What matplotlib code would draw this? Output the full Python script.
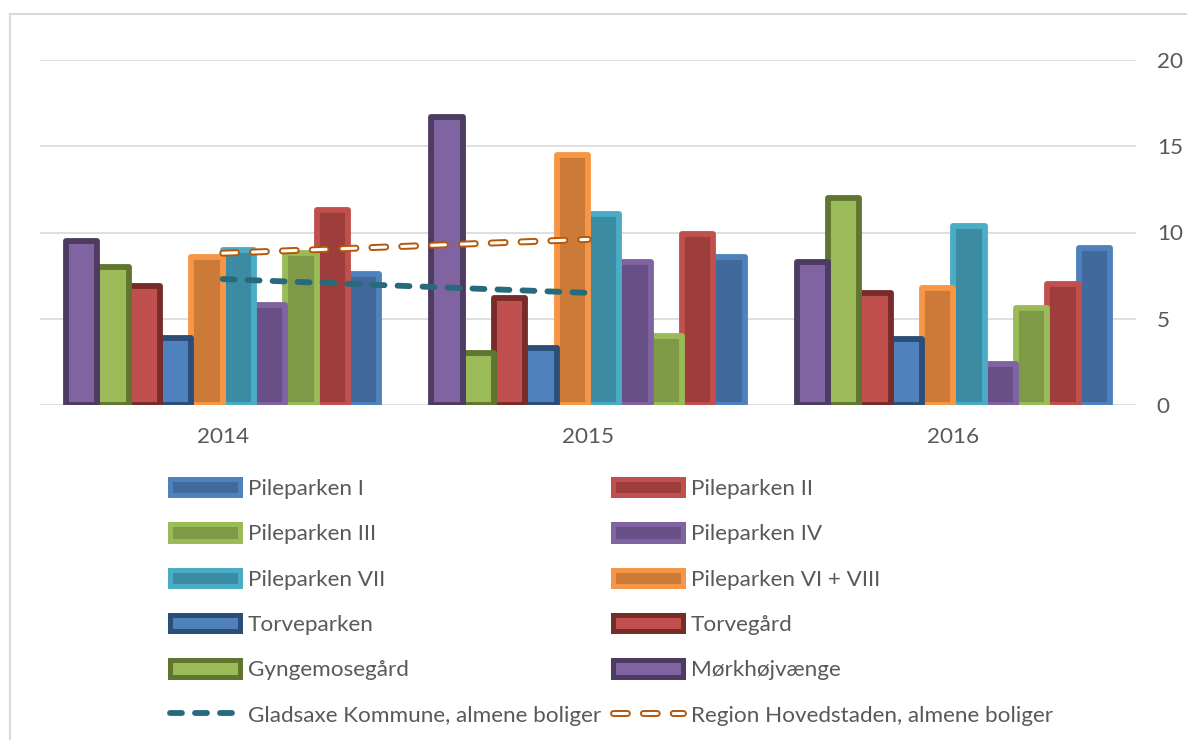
import matplotlib
matplotlib.use("Agg")
import matplotlib.pyplot as plt
import numpy as np
from matplotlib.patches import Patch
from matplotlib.lines import Line2D

plt.rcParams['lines.scale_dashes'] = False
plt.rcParams['font.family'] = ['Lato', 'DejaVu Sans']

years = ["2014", "2015", "2016"]

# series in legend order
series_names = ["Pileparken I", "Pileparken II", "Pileparken III", "Pileparken IV",
                "Pileparken VII", "Pileparken VI + VIII", "Torveparken", "Torvegård",
                "Gyngemosegård", "Mørkhøjvænge"]
pileparken_I = [7.6, 8.6, 9.1]
pileparken_II = [11.3, 9.9, 7.0]
pileparken_III = [8.8, 4.0, 5.6]
pileparken_IV = [5.8, 8.3, 2.4]
pileparken_VII = [9.0, 11.1, 10.4]
pileparken_VI_VIII = [8.6, 14.5, 6.8]
torveparken = [3.9, 3.3, 3.8]
torvegaard = [6.9, 6.2, 6.5]
gyngemosegaard = [8.0, 3.0, 12.0]
moerkhoejvaenge = [9.5, 16.7, 8.3]

gladsaxe = [7.3, 6.5]
region = [8.8, 9.6]

series_values = [pileparken_I, pileparken_II, pileparken_III, pileparken_IV,
                 pileparken_VII, pileparken_VI_VIII, torveparken, torvegaard,
                 gyngemosegaard, moerkhoejvaenge]

fills = ["#41699b", "#9e3e3c", "#7f9a47", "#684f86", "#3b8ba3", "#cb7a38",
         "#4f81bd", "#c0504d", "#9bbb59", "#8064a2"]
edges = ["#4f81bd", "#c0504d", "#9bbb59", "#8064a2", "#4bacc6", "#f79646",
         "#2c4d75", "#772c2a", "#5f7530", "#4d3b62"]

W, H = 1187, 740
fig = plt.figure(figsize=(W / 100, H / 100), dpi=100)
ax = fig.add_axes([40 / W, (H - 405) / H, (1136 - 40) / W, (405 - 60) / H])

x = np.arange(len(years))
n = len(series_names)
bw = 0.0857
edge_lw = 4.2
handles = {}
for i, (name, vals) in enumerate(zip(series_names, series_values)):
    pos = n - 1 - i  # reversed plotting order: first series rightmost
    offs = (pos - (n - 1) / 2) * bw
    bars = ax.bar(x + offs, vals, width=bw, color=fills[i], edgecolor=edges[i],
                  linewidth=edge_lw, zorder=3 + i * 0.01)
    for b in bars:
        b.set_joinstyle('round')
    handles[name] = Patch(facecolor=fills[i], edgecolor=edges[i], linewidth=3.6,
                          joinstyle='round')

G_COL, R_COL = "#276a7c", "#b65708"
G_LW, G_DASH = 4.2, (8.6, 9.4)
R_LW, R_IN_LW, R_DASH = 5.0, 2.2, (10.0, 11.5)

lx = x[:len(gladsaxe)]
ax.plot(lx, gladsaxe, color=G_COL, lw=G_LW, dashes=G_DASH,
        dash_capstyle='round', zorder=5)
ax.plot(lx, region, color=R_COL, lw=R_LW, dashes=R_DASH,
        dash_capstyle='round', zorder=5)
ax.plot(lx, region, color="white", lw=R_IN_LW, dashes=R_DASH,
        dash_capstyle='round', zorder=5.1)

FS = 16.2
ax.set_xlim(-0.5, 2.5)
ax.set_ylim(0, 20)
ax.set_yticks([0, 5, 10, 15, 20])
ax.yaxis.tick_right()
ax.set_xticks(x)
ax.set_xticklabels(years)
ax.tick_params(axis='both', length=0, labelsize=FS, labelcolor="#595959")
ax.tick_params(axis='y', pad=15)
ax.tick_params(axis='x', pad=16)
for s in ax.spines.values():
    s.set_visible(False)
ax.grid(axis='y', color="#d9d9d9", lw=1.2, zorder=0)
ax.set_axisbelow(True)

# legend, two columns
g_h = Line2D([], [], color=G_COL, lw=G_LW, dashes=G_DASH, dash_capstyle='round')
r_o = Line2D([], [], color=R_COL, lw=R_LW, dashes=R_DASH, dash_capstyle='round')
r_i = Line2D([], [], color="white", lw=R_IN_LW, dashes=R_DASH, dash_capstyle='round')

col1 = ["Pileparken I", "Pileparken III", "Pileparken VII", "Torveparken", "Gyngemosegård"]
col2 = ["Pileparken II", "Pileparken IV", "Pileparken VI + VIII", "Torvegård", "Mørkhøjvænge"]
common = dict(frameon=False, fontsize=FS, handlelength=3.1, handleheight=0.75,
              handletextpad=0.36, labelspacing=1.12, borderpad=0, borderaxespad=0,
              loc='upper left', labelcolor="#595959")
leg1 = fig.legend([handles[k] for k in col1] + [g_h],
                  col1 + ["Gladsaxe Kommune, almene boliger"],
                  bbox_to_anchor=(170 / W, 1 - 479 / H), **common)
leg2 = fig.legend([handles[k] for k in col2] + [(r_o, r_i)],
                  col2 + ["Region Hovedstaden, almene boliger"],
                  bbox_to_anchor=(613 / W, 1 - 479 / H), **common)

# outer border
fig.add_artist(Line2D([10 / W, 10 / W], [0, 1 - 14 / H], transform=fig.transFigure,
                      color="#d9d9d9", lw=1.5))
fig.add_artist(Line2D([10 / W, 1], [1 - 14 / H, 1 - 14 / H], transform=fig.transFigure,
                      color="#d9d9d9", lw=1.5))

fig.savefig("out.png", dpi=100)
